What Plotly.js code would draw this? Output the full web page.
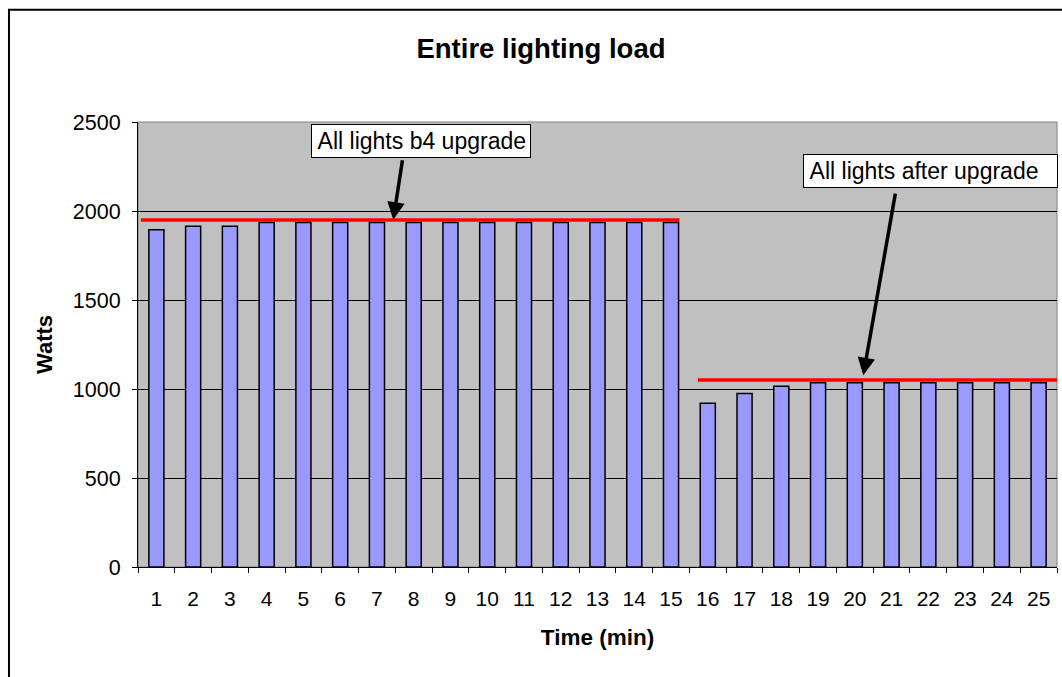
<!DOCTYPE html>
<html>
<head>
<meta charset="utf-8">
<script src="https://cdn.plot.ly/plotly-3.0.1.min.js"></script>
<style>html,body{margin:0;padding:0;background:#fff;}#chart{width:1062px;height:677px;}</style>
</head>
<body>
<div id="chart"></div>
<script>
// Data
const minutes = [1,2,3,4,5,6,7,8,9,10,11,12,13,14,15,16,17,18,19,20,21,22,23,24,25];
const watts = [1895,1915,1915,1935,1935,1935,1935,1935,1935,1935,1935,1935,1935,1935,1935,
               920,975,1015,1035,1035,1035,1035,1035,1035,1035];
const beforeLineX = [0.58, 15.23];
const beforeLineY = [1950, 1950];
const afterLineX = [15.73, 25.5];
const afterLineY = [1050, 1050];
const labelBefore = "All lights b4 upgrade";
const labelAfter = "All lights after upgrade";
// annotation anchors (data coords): [textX, textY, tailX, tailY, tipX, tipY]
const noteBefore = [8.195, 2396, 7.70, 2293, 7.445, 1951];
const noteAfter = [22.05, 2223, 21.11, 2106, 20.23, 1077];

const font = "Liberation Sans, Arial, sans-serif";

const traces = [
  {type:'bar', x: minutes, y: watts, width: 0.41,
   marker:{color:'#9999FF', line:{color:'#000', width:1.5}}, hoverinfo:'x+y'},
  {type:'scatter', mode:'lines', x: beforeLineX, y: beforeLineY,
   line:{color:'#FF0000', width:3.5}},
  {type:'scatter', mode:'lines', x: afterLineX, y: afterLineY,
   line:{color:'#FF0000', width:3.5}}
];

function arrow(n){
  return {x:n[4], y:n[5], ax:n[2], ay:n[3], xref:'x', yref:'y', axref:'x', ayref:'y',
          text:'', showarrow:true, arrowhead:2, arrowsize:1, arrowwidth:3.5, arrowcolor:'#000',
          standoff:0, startstandoff:0};
}
function box(n, txt, w){
  return {x:n[0], y:n[1], xref:'x', yref:'y', text:'\u2009' + txt, showarrow:false,
          font:{family:font, size:23, color:'#000'}, bgcolor:'#fff', bordercolor:'#000',
          borderwidth:1, borderpad:1, width:w, height:30, align:'left', xanchor:'center', yanchor:'middle'};
}

const layout = {
  width:1062, height:677,
  margin:{l:138, r:5, t:121.5, b:110},
  paper_bgcolor:'#fff', plot_bgcolor:'#C0C0C0',
  showlegend:false,
  font:{family:font, size:21, color:'#000'},
  title:{text:'<b>Entire lighting load</b>', font:{family:font, size:27.5, color:'#000'},
         xref:'container', x:0.5094, xanchor:'center', yref:'container', y:1-48/677, yanchor:'middle'},
  xaxis:{range:[0.5,25.5], tickvals:minutes, ticktext:minutes.map(String),
         ticks:'outside', ticklen:13, tickcolor:'rgba(0,0,0,0)',
         showgrid:false, zeroline:false, showline:true, linecolor:'#000', linewidth:1,
         minor:{tick0:0.5, dtick:1, ticks:'outside', ticklen:5, tickcolor:'#000', showgrid:false},
         tickfont:{family:font, size:21},
         title:{text:'<b>Time (min)</b>', font:{family:font, size:22.5}, standoff:20}},
  yaxis:{range:[0,2500], dtick:500, tick0:0, ticks:'outside', ticklen:5, tickcolor:'#000',
         ticklabelstandoff:7,
         showgrid:true, gridcolor:'#000', gridwidth:1, zeroline:false,
         showline:true, linecolor:'#000', linewidth:1,
         tickfont:{family:font, size:21.5},
         title:{text:'<b>Watts</b>', font:{family:font, size:22}, standoff:14}},
  shapes:[
    {type:'rect', xref:'paper', yref:'paper', x0:0, x1:1, y0:0, y1:1,
     line:{color:'#808080', width:1}, layer:'below'},
    {type:'rect', xref:'paper', yref:'paper', x0:-0.1404, x1:1.05, y0:-0.3, y1:1.2525,
     line:{color:'#000', width:2}, fillcolor:'rgba(0,0,0,0)', layer:'above'}
  ],
  annotations:[
    arrow(noteBefore), arrow(noteAfter),
    box(noteBefore, labelBefore, 216), box(noteAfter, labelAfter, 251)
  ]
};

Plotly.newPlot('chart', traces, layout, {displayModeBar:false, staticPlot:true});
</script>
</body>
</html>
